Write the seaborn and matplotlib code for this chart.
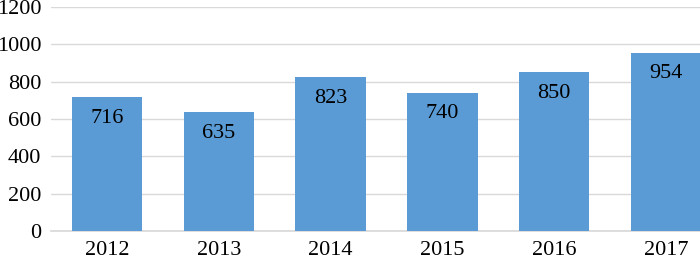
import matplotlib.pyplot as plt
import seaborn as sns
import pandas as pd

years = ["2012", "2013", "2014", "2015", "2016", "2017"]
values = [716, 635, 823, 740, 850, 954]

sns.set_theme(style="white")
plt.rcParams["font.family"] = ["Liberation Serif", "DejaVu Serif"]

df = pd.DataFrame({"Year": years, "Value": values})

fig = plt.figure(figsize=(7, 2.6), dpi=100)
ax = fig.add_axes([51 / 700, 29 / 260, 671 / 700, 224 / 260])

sns.barplot(data=df, x="Year", y="Value", color="#5B9BD5", saturation=1,
            width=0.63, linewidth=0, ax=ax, zorder=3)

ax.set_ylim(0, 1200)
ax.set_yticks(range(0, 1201, 200))
ax.yaxis.grid(True, color="#D9D9D9", linewidth=1, zorder=0)
ax.set_axisbelow(True)
for s in ["top", "right", "left"]:
    ax.spines[s].set_visible(False)
ax.spines["bottom"].set_color("#D9D9D9")
ax.tick_params(axis="both", length=0, labelsize=16, colors="black", pad=7)
ax.set_xlabel("")
ax.set_ylabel("")

# value labels just inside the top of each bar
for i, v in enumerate(values):
    ax.text(i, v - 112, str(v), ha="center", va="center", fontsize=16, color="black", zorder=4)

fig.savefig("out.png", dpi=100)
